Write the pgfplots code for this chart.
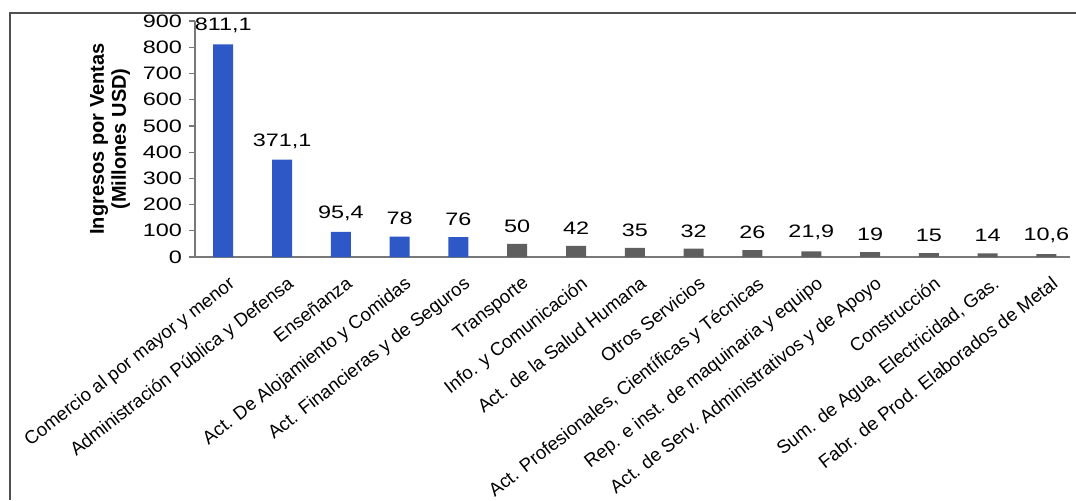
\documentclass[border=0pt]{standalone}
\usepackage{fontspec}
\setmainfont{Liberation Sans}
\newfontfamily\wide{Liberation Sans}[FakeStretch=1.3]
\usepackage{pgfplots}
\pgfplotsset{compat=1.18}
\definecolor{barblue}{RGB}{45,88,198}
\definecolor{bargray}{RGB}{95,95,95}
\definecolor{axgray}{RGB}{120,120,120}
\definecolor{framegray}{RGB}{80,80,80}
\begin{document}
\begin{tikzpicture}
\useasboundingbox (-97.5pt,-121.5pt) rectangle (440.5pt,128.5pt);
\draw[framegray, line width=1pt] (-92.5pt,-121.5pt) -- (-92.5pt,122pt) -- (440.5pt,122pt);
\begin{axis}[
  at={(0pt,0pt)}, anchor=south west,
  scale only axis,
  width=437.5pt, height=118pt,
  xmin=-0.48, xmax=14.4,
  ymin=0, ymax=900,
  ytick={0,100,...,900},
  xtick={0,...,14},
  xticklabels={Comercio al por mayor y menor, Administración Pública y Defensa, Enseñanza, Act. De Alojamiento y Comidas, Act. Financieras y de Seguros, Transporte, Info. y Comunicación, Act. de la Salud Humana, Otros Servicios, {Act. Profesionales, Científicas y Técnicas}, Rep. e inst. de maquinaria y equipo, Act. de Serv. Administrativos y de Apoyo, Construcción, {Sum. de Agua, Electricidad, Gas.}, Fabr. de Prod. Elaborados de Metal},
  axis lines*=left,
  axis line style={axgray, line width=0.8pt},
  tick align=outside,
  major tick length=3pt,
  ytick style={axgray, line width=0.6pt},
  xtick style={draw=none},
  yticklabel style={font=\wide\fontsize{9}{10}\selectfont},
  xticklabel style={font=\fontsize{9.3}{10}\selectfont, rotate=38, anchor=north east, inner sep=1pt, xshift=-1pt, yshift=-5pt},
  /pgf/number format/assume math mode=true,
  ylabel={Ingresos por Ventas\\(Millones USD)},
  ylabel style={at={(axis description cs:-0.097,0.5)}, anchor=center, rotate=0, align=center, font=\bfseries\fontsize{10}{11}\selectfont},
  ybar, bar width=10pt,
  clip=false,
  nodes near coords,
  nodes near coords style={font=\wide\fontsize{9}{10}\selectfont, text=black, inner sep=1pt, yshift=4.5pt,
    /pgf/number format/.cd, use comma, fixed, precision=1, 1000 sep={}},
]
\addplot[fill=barblue, draw=none, bar shift=0pt] coordinates {(0,811.1) (1,371.1) (2,95.4) (3,78) (4,76)};
\addplot[fill=bargray, draw=none, bar shift=0pt] coordinates {(5,50) (6,42) (7,35) (8,32) (9,26) (10,21.9) (11,19) (12,15) (13,14) (14,10.6)};
\end{axis}
\end{tikzpicture}
\end{document}
